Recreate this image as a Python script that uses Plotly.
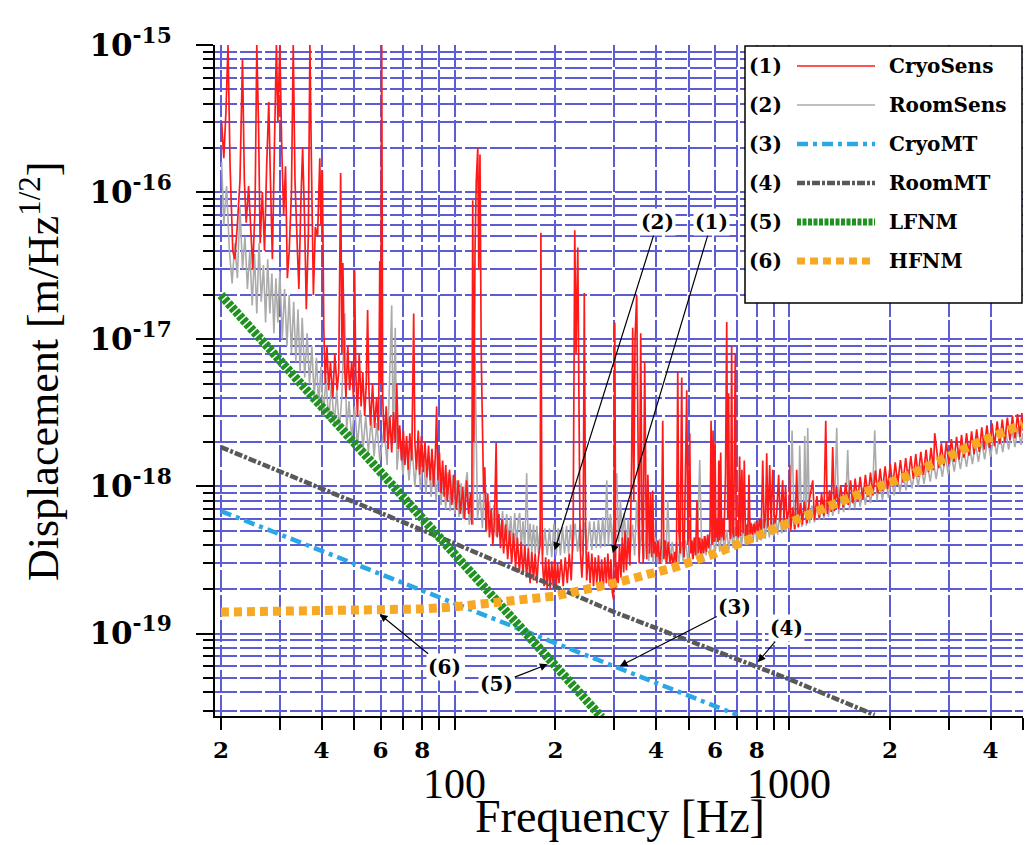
import plotly.graph_objects as go

# ---------------- data ----------------
cryo_f = [20.1, 20.4, 20.7, 21.0, 21.3, 21.7, 22.0, 22.4, 22.8, 23.2, 23.5, 23.8, 24.2, 24.6, 24.9, 25.3, 25.6, 25.9,
          26.2, 26.6, 27.0, 27.4, 27.8, 28.1, 28.5, 28.9, 29.3, 29.6, 30.0, 30.4, 30.8, 31.2, 31.6, 32.0, 32.5, 32.9,
          33.3, 33.8, 34.2, 34.7, 35.1, 35.6, 36.0, 36.5, 36.9, 37.3, 37.8, 38.3, 38.9, 39.5, 39.8, 40.2, 40.6, 41.0,
          41.5, 42.0, 42.5, 43.2, 43.8, 44.5, 45.0, 45.6, 46.0, 46.3, 46.8, 47.3, 47.9, 48.5, 49.2, 49.8, 50.2, 50.6,
          51.2, 51.8, 52.5, 53.1, 53.8, 54.4, 54.9, 55.4, 56.0, 56.8, 57.6, 58.4, 59.2, 59.7, 60.1, 60.5, 60.9, 61.6,
          62.4, 63.2, 64.0, 64.8, 65.6, 66.4, 67.1, 67.8, 68.5, 69.3, 70.2, 71.0, 71.8, 72.6, 73.4, 74.4, 75.4, 76.0,
          76.8, 77.8, 78.6, 79.5, 80.5, 81.5, 82.5, 83.5, 84.5, 85.5, 86.5, 87.5, 88.3, 89.0, 90.0, 91.0, 92.0, 93.0,
          94.0, 95.0, 96.5, 98.0, 99.5, 101, 102.5, 104, 105.7, 107, 108.5, 110, 111.5, 112.5, 113.2, 114, 115, 116,
          117.2, 118, 119, 120, 121, 122, 122.9, 124, 125.5, 127, 128.5, 130, 131.5, 133, 134, 135.5, 137, 138.5, 140,
          142, 144, 146, 148, 150, 152, 154, 156, 158, 160, 162, 164, 166, 168, 170, 172, 174, 176, 178, 180, 181, 182,
          183, 185, 187, 189, 191, 193, 195, 197, 199, 201, 203, 205, 208, 211, 214, 217, 220, 223, 226, 228.5, 230.5,
          233.3, 235, 237, 240, 242, 244, 246, 248, 251, 254, 257, 260, 263, 266, 269, 272, 275, 278, 281, 284, 287,
          290, 293, 296, 298.5, 301, 303, 305, 308, 311, 314, 317, 320, 323, 326, 330, 334, 338, 340.5, 343, 346, 350,
          353, 356, 359.8, 363, 366, 369.8, 373, 375, 378, 382, 385, 388, 390.8, 394, 398, 401.7, 405, 410, 415, 418.7,
          422, 426, 430, 435, 440, 445, 450, 455, 460, 464.3, 468, 472, 477.2, 481, 485, 488, 493.9, 498, 504.2, 508,
          512, 516, 520, 525, 530, 535, 540, 545, 550, 555, 560, 565, 570, 575, 580, 584, 588, 592, 596, 600, 604, 608,
          612, 616, 620, 624, 628, 633, 638, 645, 650.5, 655, 659, 663, 668, 673, 677, 682, 690, 694, 700, 705, 711,
          716, 722, 728, 734, 740, 746, 752, 758, 764, 770, 777, 784, 791, 799.6, 807, 816, 825, 833.4, 842, 850, 856.6,
          864, 874.5, 883, 892.8, 905, 917, 930, 940, 956, 965, 975, 985, 1000, 1003, 1010, 1025, 1040, 1053, 1065,
          1080, 1095, 1110, 1130, 1150, 1176, 1190, 1210, 1230, 1250, 1270, 1286, 1300, 1320, 1335, 1349, 1365, 1385,
          1405, 1425, 1450, 1475, 1500, 1525, 1550, 1575, 1600, 1630, 1660, 1690, 1720, 1750, 1780, 1810, 1840, 1870,
          1900, 1935, 1970, 2005, 2040, 2075, 2110, 2150, 2190, 2230, 2270, 2310, 2350, 2390, 2430, 2475, 2520, 2565,
          2610, 2655, 2700, 2723, 2750, 2800, 2850, 2900, 2950, 3000, 3055, 3110, 3165, 3220, 3275, 3330, 3390, 3450,
          3510, 3570, 3635, 3700, 3765, 3830, 3900, 3970, 4040, 4110, 4185, 4260, 4335, 4410, 4490, 4570, 4650, 4730,
          4815, 4900, 4960, 5000]
cryo_v = [3.0e-16, 1.7e-16, 3.5e-16, 1.0e-15, 1.5e-16, 4.0e-17, 3.5e-17, 6.0e-17, 1.2e-16, 8.0e-16, 1.2e-16, 6.2e-17,
          1.1e-16, 5.0e-17, 3.0e-17, 8.0e-17, 1.0e-15, 3.0e-16, 4.5e-17, 1.0e-16, 4.0e-17, 1.5e-16, 4.1e-16, 1.3e-16,
          3.5e-17, 2.0e-16, 1.0e-15, 3.0e-16, 1.0e-15, 2.0e-16, 7.0e-17, 1.5e-16, 2.6e-17, 4.0e-17, 1.0e-16, 1.0e-15,
          1.2e-16, 4.5e-17, 2.2e-17, 9.0e-17, 2.0e-16, 6.0e-17, 1.6e-17, 5.0e-17, 1.0e-15, 1.5e-16, 2.0e-17, 5.8e-17,
          5.0e-17, 1.7e-16, 6.0e-17, 1.4e-16, 1.2e-17, 5.0e-18, 9.0e-18, 4.5e-18, 7.0e-18, 4.0e-18, 8.0e-18, 4.5e-18,
          6.0e-18, 1.35e-16, 8.0e-18, 3.3e-17, 7.0e-18, 4.0e-18, 9.0e-18, 4.5e-18, 7.0e-18, 4.0e-18, 2.95e-17, 6.0e-18,
          3.0e-18, 8.0e-18, 3.5e-18, 6.0e-18, 3.0e-18, 5.0e-18, 1.58e-17, 4.5e-18, 2.6e-18, 5.0e-18, 2.5e-18, 4.0e-18,
          2.4e-18, 3.4e-17, 5.0e-18, 1.0e-15, 4.0e-18, 2.0e-18, 3.5e-18, 1.8e-18, 3.0e-18, 1.7e-18, 3.2e-18, 2.0e-18,
          5.0e-18, 1.8e-18, 2.6e-18, 1.5e-18, 2.4e-18, 1.4e-18, 2.2e-18, 1.3e-18, 2.3e-18, 1.5e-18, 1.5e-17, 2.0e-18,
          1.3e-18, 2.4e-18, 1.2e-18, 2.2e-18, 1.25e-18, 2.0e-18, 1.15e-18, 1.9e-18, 1.1e-18, 1.8e-18, 1.0e-18, 1.6e-18,
          3.5e-18, 1.1e-18, 1.7e-18, 9.0e-19, 1.5e-18, 8.5e-19, 1.4e-18, 8.0e-19, 1.3e-18, 7.5e-19, 1.2e-18, 7.0e-19,
          1.1e-18, 6.5e-19, 1.0e-18, 6.0e-19, 1.1e-18, 6.5e-19, 9.0e-19, 5.5e-19, 8.8e-17, 2.0e-18, 4.0e-17, 1.2e-16,
          2.0e-16, 3.0e-17, 1.8e-16, 8.0e-18, 2.5e-18, 9.0e-19, 1.35e-18, 5.0e-19, 9.0e-19, 4.5e-19, 7.0e-19, 4.0e-19,
          6.0e-19, 1.97e-18, 4.5e-19, 6.5e-19, 3.8e-19, 6.0e-19, 3.5e-19, 5.5e-19, 3.2e-19, 5.0e-19, 3.0e-19, 4.8e-19,
          2.8e-19, 4.5e-19, 2.6e-19, 4.2e-19, 2.5e-19, 4.0e-19, 2.4e-19, 3.8e-19, 2.2e-19, 3.6e-19, 2.3e-19, 3.5e-19,
          2.2e-19, 3.3e-19, 4.0e-19, 5.3e-17, 1.0e-18, 3.0e-19, 2.1e-19, 3.3e-19, 2.0e-19, 3.2e-19, 2.0e-19, 3.1e-19,
          2.1e-19, 3.2e-19, 2.0e-19, 3.0e-19, 2.2e-19, 3.2e-19, 2.1e-19, 3.3e-19, 2.2e-19, 3.5e-19, 2.3e-19, 5.0e-19,
          5.5e-17, 8.0e-18, 4.2e-17, 2.0e-18, 4.0e-19, 2.4e-19, 3.5e-19, 2.06e-17, 6.0e-19, 2.3e-19, 3.6e-19, 2.2e-19,
          3.5e-19, 2.1e-19, 3.3e-19, 2.2e-19, 3.4e-19, 2.1e-19, 3.2e-19, 2.0e-19, 3.3e-19, 2.2e-19, 3.5e-19, 2.1e-19,
          3.2e-19, 1.9e-19, 1.7e-19, 1.3e-17, 2.0e-19, 3.0e-19, 2.2e-19, 4.0e-19, 2.4e-19, 4.5e-19, 2.6e-19, 5.0e-19,
          2.7e-19, 4.5e-19, 2.9e-19, 1.5e-18, 1.2e-17, 8.0e-19, 1.0e-17, 2.0e-17, 1.5e-18, 3.0e-19, 1.1e-17, 6.0e-19,
          3.0e-19, 7.0e-18, 8.0e-19, 3.2e-19, 1.2e-18, 3.5e-19, 9.0e-19, 3.3e-19, 9.4e-19, 3.5e-19, 4.2e-19, 3.3e-19,
          4.3e-19, 3.0e-19, 4.0e-19, 2.8e-18, 3.2e-19, 4.3e-19, 3.0e-19, 4.2e-19, 3.0e-19, 3.5e-19, 2.9e-19, 3.6e-19,
          3.0e-19, 6.0e-18, 5.0e-19, 3.5e-19, 5.5e-18, 4.0e-19, 3.3e-19, 1.0e-18, 4.5e-18, 4.0e-19, 2.3e-18, 3.5e-19,
          4.3e-19, 3.2e-19, 4.5e-19, 3.4e-19, 8.1e-19, 3.5e-19, 4.5e-19, 3.3e-19, 4.4e-19, 3.5e-19, 4.6e-19, 3.6e-19,
          4.7e-19, 3.8e-19, 5.0e-19, 2.8e-18, 4.0e-19, 2.4e-18, 4.2e-19, 2.0e-18, 4.5e-19, 6.0e-19, 4.2e-19, 1.5e-18,
          4.3e-19, 1.7e-18, 4.5e-19, 6.0e-19, 4.3e-19, 1.2e-18, 1.31e-17, 6.0e-19, 4.3e-18, 5.0e-19, 4.4e-19, 9.0e-18,
          5.0e-19, 4.5e-19, 8.0e-18, 4.6e-19, 5.5e-19, 4.5e-19, 1.6e-18, 4.6e-19, 1.3e-18, 4.8e-19, 1.5e-18, 4.6e-19,
          5.5e-19, 4.5e-19, 1.2e-18, 4.6e-19, 5.6e-19, 4.7e-19, 5.6e-19, 4.8e-19, 5.8e-19, 4.9e-19, 6.0e-19, 5.0e-19,
          1.5e-18, 5.2e-19, 6.2e-19, 1.68e-18, 5.2e-19, 1.4e-18, 5.5e-19, 1.3e-18, 5.6e-19, 6.4e-19, 1.2e-18, 5.7e-19,
          1.1e-18, 5.8e-19, 1.0e-18, 6.0e-19, 7.0e-19, 1.4e-18, 5.0e-19, 7.2e-19, 5.1e-19, 1.3e-18, 5.3e-19, 7.7e-19,
          5.5e-19, 7.9e-19, 5.6e-19, 8.2e-19, 1.1e-18, 5.9e-19, 8.6e-19, 6.1e-19, 8.9e-19, 6.3e-19, 2.8e-18, 6.5e-19,
          9.4e-19, 6.7e-19, 1.85e-18, 6.8e-19, 9.9e-19, 7.0e-19, 1.02e-18, 7.2e-19, 1.06e-18, 7.5e-19, 1.1e-18, 7.7e-19,
          1.13e-18, 7.9e-19, 1.16e-18, 8.1e-19, 1.2e-18, 8.5e-19, 1.24e-18, 8.7e-19, 1.28e-18, 9.0e-19, 1.32e-18,
          9.3e-19, 1.37e-18, 9.6e-19, 1.42e-18, 1.0e-18, 1.46e-18, 1.03e-18, 1.51e-18, 1.06e-18, 1.56e-18, 1.1e-18,
          1.61e-18, 1.13e-18, 1.66e-18, 1.16e-18, 1.72e-18, 1.2e-18, 1.77e-18, 1.25e-18, 1.83e-18, 1.29e-18, 2.3e-18,
          1.9e-18, 1.33e-18, 1.96e-18, 1.38e-18, 2.02e-18, 1.42e-18, 2.1e-18, 1.47e-18, 2.17e-18, 1.52e-18, 2.24e-18,
          1.57e-18, 2.3e-18, 1.62e-18, 2.37e-18, 1.66e-18, 2.44e-18, 1.72e-18, 2.52e-18, 1.78e-18, 2.6e-18, 1.83e-18,
          2.68e-18, 1.88e-18, 2.77e-18, 1.94e-18, 2.85e-18, 2.0e-18, 2.94e-18, 2.06e-18, 3.03e-18, 2.12e-18, 3.1e-18,
          2.17e-18, 3.15e-18, 2.4e-18]

room_f = [20.1, 20.4, 20.8, 21.2, 21.6, 22.0, 22.4, 22.8, 23.2, 23.6, 24.0, 24.4, 24.8, 25.2, 25.6, 26.0, 26.4, 26.8,
          27.2, 27.6, 28.0, 28.4, 28.8, 29.2, 29.6, 30.0, 30.5, 31.0, 31.5, 32.0, 32.5, 33.0, 33.5, 34.0, 34.5, 35.0,
          35.6, 36.2, 36.8, 37.4, 38.0, 38.6, 39.2, 39.8, 40.5, 41.2, 42.0, 42.8, 43.6, 44.4, 45.2, 46.0, 46.9, 47.5,
          48.3, 49.2, 50.2, 51.2, 52.2, 53.2, 54.2, 55.2, 56.3, 57.4, 58.5, 59.7, 61.5, 62.8, 64.8, 65.5, 66.4, 67.2,
          68.5, 70.0, 71.5, 73.0, 74.5, 76.0, 77.5, 79.0, 80.5, 82.0, 83.5, 85.0, 86.5, 88.0, 89.5, 91.0, 92.5, 94.0,
          95.5, 97.0, 98.5, 100, 101.5, 103, 104.5, 106, 107.5, 109, 110.5, 112, 113.5, 115, 117, 119, 121, 122.9,
          125, 127, 129, 131, 133, 135, 137, 139, 141, 143, 145, 147, 149, 151.1, 153, 155, 156.4, 158, 160, 162,
          164.1, 166, 168, 170, 172, 174, 176, 178, 180, 183, 186, 189, 192, 195, 198, 201, 204, 207, 210, 213, 216,
          219, 222, 225, 229, 233, 237, 241, 245, 249, 253, 257, 261, 265, 269, 273, 277, 281, 284.8, 288, 292, 296,
          300, 305.1, 309, 313, 317, 321, 326, 330, 335, 340, 345, 350, 356, 362, 368, 374, 380, 386, 392, 398, 404,
          410, 416, 422, 428, 433.4, 440, 447, 454, 461, 468, 475, 482, 490, 498, 506, 514, 522, 530, 540.2, 548, 556,
          564, 572, 580, 590, 600, 610, 620, 630, 640, 650, 660, 670, 680, 690, 700, 710, 720, 730, 740, 750, 760, 770,
          780, 790, 800, 812, 824, 836, 848, 860, 872, 885, 898, 911, 924, 937, 950, 963, 976, 989, 1003, 1020, 1035,
          1050, 1065, 1075, 1090, 1105, 1113, 1125, 1136, 1150, 1170, 1190, 1210, 1230, 1250, 1270, 1290, 1310, 1330,
          1350, 1370, 1387, 1405, 1430, 1455, 1480, 1496, 1515, 1540, 1570, 1600, 1630, 1660, 1690, 1720, 1750, 1780,
          1802, 1830, 1860, 1900, 1940, 1980, 2020, 2060, 2100, 2145, 2190, 2235, 2280, 2330, 2380, 2430, 2480, 2530,
          2585, 2640, 2695, 2750, 2810, 2870, 2930, 2990, 3050, 3115, 3180, 3250, 3320, 3390, 3460, 3530, 3605, 3680,
          3760, 3840, 3920, 4000, 4085, 4170, 4260, 4350, 4440, 4530, 4630, 4730, 4830, 4930, 5000]
room_v = [1.6e-16, 6.0e-17, 1.1e-16, 4.0e-17, 2.4e-17, 4.5e-17, 2.6e-17, 8.0e-17, 3.0e-17, 5.0e-17, 2.2e-17, 4.0e-17,
          1.7e-17, 3.8e-17, 1.5e-17, 4.5e-17, 1.8e-17, 3.2e-17, 1.3e-17, 3.5e-17, 1.5e-17, 2.8e-17, 1.1e-17, 2.6e-17,
          1.3e-17, 2.9e-17, 1.0e-17, 2.2e-17, 9.0e-18, 2.0e-17, 8.0e-18, 1.8e-17, 7.0e-18, 1.6e-17, 6.0e-18, 1.4e-17,
          5.5e-18, 1.1e-17, 5.0e-18, 9.0e-18, 4.0e-18, 7.5e-18, 3.5e-18, 6.5e-18, 3.0e-18, 5.5e-18, 2.8e-18, 5.0e-18,
          2.6e-18, 4.5e-18, 2.4e-18, 4.2e-18, 1.5e-17, 2.4e-18, 3.8e-18, 2.1e-18, 3.5e-18, 1.9e-18, 3.3e-18, 1.8e-18,
          3.0e-18, 1.7e-18, 2.9e-18, 1.6e-18, 2.7e-18, 1.5e-18, 2.5e-18, 1.4e-18, 1.7e-17, 2.0e-18, 1.2e-17, 1.3e-18,
          2.2e-18, 1.2e-18, 2.0e-18, 1.1e-18, 1.9e-18, 1.0e-18, 1.8e-18, 9.5e-19, 1.7e-18, 9.0e-19, 1.6e-18, 8.5e-19,
          1.5e-18, 8.0e-19, 1.4e-18, 7.5e-19, 1.3e-18, 7.0e-19, 1.25e-18, 6.8e-19, 1.2e-18, 6.5e-19, 1.1e-18, 6.2e-19,
          1.05e-18, 6.0e-19, 1.0e-18, 1.25e-18, 5.5e-19, 9.0e-19, 5.5e-19, 8.0e-18, 6.0e-19, 9.0e-19, 5.2e-19, 1.35e-18,
          5.0e-19, 8.0e-19, 4.8e-19, 7.5e-19, 4.6e-19, 7.0e-19, 4.5e-19, 6.8e-19, 4.3e-19, 6.5e-19, 4.2e-19, 6.3e-19,
          4.0e-19, 6.6e-19, 3.9e-19, 6.0e-19, 6.6e-19, 3.8e-19, 5.8e-19, 3.7e-19, 1.23e-18, 3.7e-19, 5.6e-19, 3.6e-19,
          5.5e-19, 3.5e-19, 5.4e-19, 3.5e-19, 5.3e-19, 3.4e-19, 5.2e-19, 3.4e-19, 5.2e-19, 3.3e-19, 5.6e-19, 3.4e-19,
          5.2e-19, 3.4e-19, 5.3e-19, 3.5e-19, 5.4e-19, 3.5e-19, 5.5e-19, 3.6e-19, 5.6e-19, 3.6e-19, 5.6e-19, 3.6e-19,
          5.7e-19, 3.7e-19, 5.8e-19, 3.7e-19, 5.8e-19, 3.8e-19, 6.0e-19, 3.8e-19, 6.2e-19, 3.9e-19, 1.1e-18, 4.0e-19,
          6.5e-19, 4.0e-19, 6.8e-19, 1.23e-18, 4.2e-19, 8.0e-19, 4.3e-19, 6.6e-19, 3.8e-19, 6.0e-19, 3.6e-19, 5.5e-19,
          3.4e-19, 8.1e-19, 3.3e-19, 5.0e-19, 3.2e-19, 4.8e-19, 3.1e-19, 4.6e-19, 3.0e-19, 4.5e-19, 3.0e-19, 4.4e-19,
          3.0e-19, 4.3e-19, 3.0e-19, 8.1e-19, 3.0e-19, 4.2e-19, 3.0e-19, 4.2e-19, 3.0e-19, 4.2e-19, 3.1e-19, 4.3e-19,
          3.1e-19, 4.4e-19, 3.2e-19, 4.5e-19, 3.3e-19, 1.51e-18, 3.3e-19, 4.6e-19, 3.4e-19, 4.7e-19, 3.5e-19, 4.8e-19,
          3.5e-19, 4.9e-19, 3.6e-19, 5.0e-19, 3.7e-19, 5.1e-19, 3.7e-19, 5.2e-19, 3.8e-19, 5.3e-19, 3.9e-19, 5.4e-19,
          3.9e-19, 5.5e-19, 4.0e-19, 5.6e-19, 4.1e-19, 5.7e-19, 4.2e-19, 5.8e-19, 4.2e-19, 5.9e-19, 4.3e-19, 6.0e-19,
          4.4e-19, 6.1e-19, 4.5e-19, 6.3e-19, 4.6e-19, 6.4e-19, 4.7e-19, 6.5e-19, 4.8e-19, 6.6e-19, 4.9e-19, 6.7e-19,
          5.0e-19, 2.4e-18, 5.1e-19, 6.9e-19, 5.2e-19, 1.9e-18, 5.3e-19, 7.1e-19, 2.2e-18, 5.4e-19, 2.5e-18, 5.6e-19,
          7.4e-19, 5.7e-19, 7.6e-19, 5.9e-19, 7.8e-19, 6.0e-19, 8.0e-19, 6.2e-19, 8.2e-19, 6.3e-19, 8.4e-19, 2.5e-18,
          6.5e-19, 8.7e-19, 6.7e-19, 9.0e-19, 1.77e-18, 6.9e-19, 9.2e-19, 7.1e-19, 9.5e-19, 7.3e-19, 9.8e-19, 7.5e-19,
          1.0e-18, 7.7e-19, 1.03e-18, 2.4e-18, 8.0e-19, 1.07e-18, 8.1e-19, 1.13e-18, 8.4e-19, 1.17e-18, 8.7e-19,
          1.21e-18, 9.1e-19, 1.25e-18, 9.4e-19, 1.3e-18, 9.7e-19, 1.34e-18, 1.0e-18, 1.39e-18, 1.04e-18, 1.44e-18,
          1.08e-18, 1.5e-18, 1.12e-18, 1.56e-18, 1.16e-18, 1.62e-18, 1.21e-18, 1.68e-18, 1.26e-18, 1.75e-18, 1.31e-18,
          1.82e-18, 1.36e-18, 1.89e-18, 1.42e-18, 1.97e-18, 1.47e-18, 2.04e-18, 1.53e-18, 2.12e-18, 1.59e-18, 2.2e-18,
          1.65e-18, 2.29e-18, 1.71e-18, 2.37e-18, 1.78e-18, 2.46e-18, 1.85e-18, 2.55e-18, 1.92e-18, 2.3e-18]

cryomt_f = [20, 100, 300, 700]
cryomt_v = [6.8e-19, 1.6e-19, 6.0e-20, 2.8e-20]
roommt_f = [20, 100, 300, 1000, 1800]
roommt_v = [1.85e-18, 4.1e-19, 1.4e-19, 4.9e-20, 2.8e-20]
lfnm_f = [20, 50, 100, 200, 275]
lfnm_v = [2.0e-17, 2.0e-18, 3.6e-19, 6.2e-20, 2.7e-20]
hfnm_f = [20, 50, 80, 100, 150, 200, 300, 450, 600, 800, 1000, 1500, 2300, 3600, 5000]
hfnm_v = [1.40e-19, 1.42e-19, 1.47e-19, 1.52e-19, 1.65e-19, 1.8e-19, 2.2e-19, 2.8e-19, 3.5e-19, 4.6e-19,
          5.6e-19, 8.3e-19, 1.2e-18, 1.95e-18, 2.65e-18]

series_names = ["CryoSens", "RoomSens", "CryoMT", "RoomMT", "LFNM", "HFNM"]
x_tick_vals = [20, 40, 60, 80, 200, 400, 600, 800, 2000, 4000]
x_tick_text = ["2", "4", "6", "8", "2", "4", "6", "8", "2", "4"]
x_minor_vals = [30, 50, 70, 90, 100, 300, 500, 700, 900, 1000, 3000, 5000]
y_tick_vals = [1e-19, 1e-18, 1e-17, 1e-16, 1e-15]
y_tick_text = ["10<sup>-19</sup>", "10<sup>-18</sup>", "10<sup>-17</sup>", "10<sup>-16</sup>", "10<sup>-15</sup>"]
y_minor_vals = [k * 10.0 ** e for e in range(-20, -15) for k in range(2, 10) if k * 10.0 ** e >= 2.9e-20]

# ---------------- styles ----------------
RED = "#ff1a1a"
LGRAY = "#ababab"
BLUE = "#2aa7e4"
DGRAY = "#595959"
GREEN = "#1f921f"
ORANGE = "#f7a824"
GRID = "#5c5cd4"
SERIF = "DejaVu Serif"
TIMES = "Liberation Serif"

styles = {
    "CryoSens": dict(color=RED, width=1.7),
    "RoomSens": dict(color=LGRAY, width=1.6),
    "CryoMT": dict(color=BLUE, width=4.5, dash="11px,5px,4px,5px"),
    "RoomMT": dict(color=DGRAY, width=4.5, dash="8px,2px,3px,2px"),
    "LFNM": dict(color=GREEN, width=9, dash="4px,1.5px"),
    "HFNM": dict(color=ORANGE, width=9, dash="8px,5px"),
}

fig = go.Figure()
fig.add_trace(go.Scatter(x=room_f, y=room_v, mode="lines", name="RoomSens", line=styles["RoomSens"]))
fig.add_trace(go.Scatter(x=cryo_f, y=cryo_v, mode="lines", name="CryoSens", line=styles["CryoSens"]))
fig.add_trace(go.Scatter(x=cryomt_f, y=cryomt_v, mode="lines", name="CryoMT", line=styles["CryoMT"]))
fig.add_trace(go.Scatter(x=roommt_f, y=roommt_v, mode="lines", name="RoomMT", line=styles["RoomMT"]))
fig.add_trace(go.Scatter(x=lfnm_f, y=lfnm_v, mode="lines", name="LFNM", line=styles["LFNM"]))
fig.add_trace(go.Scatter(x=hfnm_f, y=hfnm_v, mode="lines", name="HFNM", line=styles["HFNM"]))

W, H = 1026, 845
ML, MR, MT, MB = 215, 3, 45, 129
PW, PH = W - ML - MR, H - MT - MB


def px(x):
    return (x - ML) / PW


def py(y):
    return (H - MB - y) / PH


grid = dict(showgrid=True, gridcolor=GRID, gridwidth=1.5, griddash="22px,3px")

fig.update_layout(
    width=W, height=H, margin=dict(l=ML, r=MR, t=MT, b=MB),
    paper_bgcolor="white", plot_bgcolor="white", showlegend=False,
    font=dict(family=SERIF, color="black"),
    xaxis=dict(type="log", range=[1.2833, 3.699], tickmode="array", tickvals=x_tick_vals,
               ticktext=["<b>%s</b>" % t for t in x_tick_text], ticks="outside", ticklen=12, tickwidth=1.5,
               tickcolor="black", showline=True, linecolor="black", linewidth=2, zeroline=False,
               tickfont=dict(family=SERIF, size=23, color="black"),
               minor=dict(tickmode="array", tickvals=x_minor_vals, ticks="outside", ticklen=12, tickwidth=1.5,
                          tickcolor="black", **grid),
               **grid),
    yaxis=dict(type="log", range=[-19.56, -15], tickmode="array", tickvals=y_tick_vals,
               ticktext=["<b>%s</b>" % t for t in y_tick_text],
               ticks="outside", ticklen=17, tickwidth=1.5, tickcolor="black", showline=True, linecolor="black",
               linewidth=2, zeroline=False, tickfont=dict(family=SERIF, size=31, color="black"),
               ticklabelstandoff=18,
               minor=dict(tickmode="array", tickvals=y_minor_vals, ticks="outside", ticklen=10, tickwidth=1.5,
                          tickcolor="black", **grid),
               **grid),
)

annotations = []
shapes = []
# big decade labels and longer decade ticks on the x axis
for dec, lab in [(2, "100"), (3, "1000")]:
    annotations.append(dict(x=dec, xref="x", y=py(784), yref="paper", text=lab, showarrow=False,
                            xanchor="center", yanchor="middle",
                            font=dict(family=TIMES, size=42, color="black")))
    shapes.append(dict(type="line", xref="x", yref="paper", x0=dec, x1=dec, y0=0, y1=py(716 + 26),
                       line=dict(color="black", width=1.5)))

# axis titles
annotations.append(dict(x=px(620), y=py(816), xref="paper", yref="paper", text="Frequency [Hz]",
                        xanchor="center", yanchor="middle", showarrow=False,
                        font=dict(family=TIMES, size=46, color="black")))
annotations.append(dict(x=px(40), y=py(372), xref="paper", yref="paper", text="Displacement [m/Hz<sup>1/2</sup>]",
                        xanchor="center", yanchor="middle", textangle=-90, showarrow=False,
                        font=dict(family=TIMES, size=44, color="black")))

# curve labels with arrows (head position in log10 data coordinates, text offset in pixels)
lab_font = dict(family=SERIF, size=20, color="black")
curve_labels = [("(2)", 2.299, -18.433, 103, -328), ("(1)", 2.4723, -18.453, 99, -331),
                ("(3)", 2.4933, -19.222, 115, -59), ("(4)", 2.9058, -19.194, 29, -34),
                ("(5)", 2.278, -19.208, -51, 20), ("(6)", 1.7758, -18.868, 65, 53)]
for t, hx, hy, ax, ay in curve_labels:
    annotations.append(dict(x=hx, y=hy, xref="x", yref="y", text="<b>%s</b>" % t, showarrow=True, ax=ax, ay=ay,
                            arrowhead=2, arrowsize=1.3, arrowwidth=1.2, arrowcolor="black", bgcolor="white",
                            font=lab_font, borderpad=1))

# legend box drawn by hand (number, sample line, name)
shapes.append(dict(type="rect", xref="paper", yref="paper", x0=px(745), x1=px(1022), y0=py(303), y1=py(46),
                   line=dict(color="black", width=1.5), fillcolor="white", layer="above"))
for i, name in enumerate(series_names):
    yy = py(66 + 39 * i)
    st = styles[name]
    shapes.append(dict(type="line", xref="paper", yref="paper", x0=px(797), x1=px(875), y0=yy, y1=yy,
                       line=dict(color=st["color"], width=min(st["width"], 7) if i > 1 else 1.5,
                                 dash=st.get("dash", "solid")), layer="above"))
    annotations.append(dict(x=px(765), y=yy, xref="paper", yref="paper", text="<b>(%d)</b>" % (i + 1),
                            xanchor="center", yanchor="middle", showarrow=False, font=lab_font))
    annotations.append(dict(x=px(887), y=yy, xref="paper", yref="paper", text="<b>%s</b>" % name,
                            xanchor="left", yanchor="middle", showarrow=False, font=lab_font))

fig.update_layout(annotations=annotations, shapes=shapes)
fig.write_html("out.html")
